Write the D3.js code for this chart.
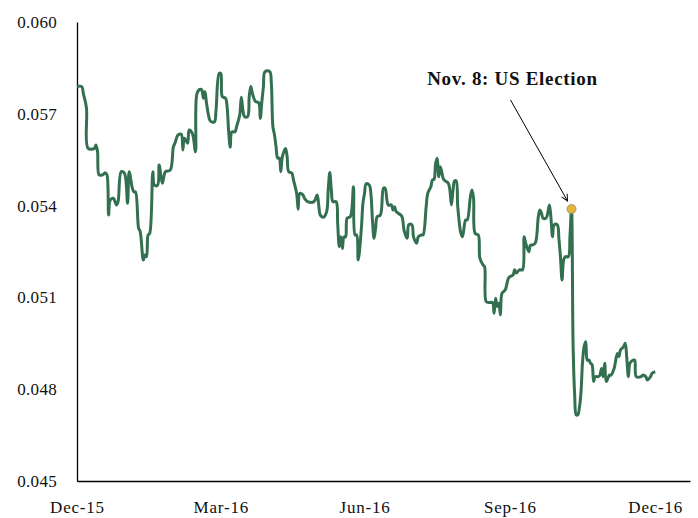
<!DOCTYPE html>
<html>
<head>
<meta charset="utf-8">
<script src="https://cdn.jsdelivr.net/npm/d3@7"></script>
<style>
  body { margin: 0; background: #fff; }
  svg { display: block; }
  .tick text { font-family: "Liberation Serif", "DejaVu Serif", serif; font-size: 17px; fill: #111; letter-spacing: 0.3px; }
  .x-axis .tick text { letter-spacing: 0.8px; }
  .series { fill: none; stroke: #33704f; stroke-width: 3; stroke-linejoin: round; }
  .note { font-family: "Liberation Serif", "DejaVu Serif", serif; font-size: 19px; font-weight: bold; fill: #111; letter-spacing: 0.7px; }
</style>
</head>
<body>
<script>
// days after 31 Dec 2015 and the value read for that day
var dayOffsets = [0,3,4,6,7,11,12,13,14,16,18,19,20,21,23,25,26,28,30,32,33,35,36,37,39,40,42,43,44,45,46,48,49,51,52,54,56,59,61,62,64,66,67,68,70,71,73,75,76,78,79,80,81,82,84,85,87,88,90,91,92,94,95,96,97,98,100,101,103,104,105,106,108,109,110,111,113,115,116,117,118,119,122,123,124,125,126,127,128,129,130,132,133,134,136,137,139,140,141,143,144,146,150,152,153,154,156,158,159,160,161,162,164,165,166,167,168,169,170,171,173,175,176,177,178,180,181,182,183,185,186,187,188,189,190,192,194,195,197,199,200,201,202,205,206,207,209,210,212,213,215,216,218,219,221,222,224,225,226,227,228,229,230,232,233,235,236,237,238,239,240,241,243,244,246,247,249,250,251,252,254,255,257,258,259,261,263,264,265,266,267,268,269,271,273,274,276,277,278,280,282,283,284,286,287,288,290,292,293,294,295,297,299,300,301,302,304,305,306,307,308,309,311,312,313,314,315,316,317,318,319,320,321,322,323,324,325,326,327,328,330,331,332,333,334,335,337,338,340,342,343,344,346,347,348,349,350,352,353,354,357,358,360,361,363,364,366];
var values = [0.05789,0.05789,0.05767,0.05719,0.05587,0.05587,0.05598,0.05576,0.0550,0.0550,0.05507,0.0550,0.05369,0.05418,0.05424,0.05402,0.05413,0.05511,0.05506,0.05408,0.05511,0.05458,0.05445,0.05445,0.05326,0.05315,0.05222,0.05239,0.05233,0.05304,0.05309,0.05511,0.05467,0.05467,0.05533,0.05473,0.05511,0.05516,0.05592,0.05604,0.05631,0.05633,0.05582,0.0562,0.05604,0.05647,0.05636,0.05576,0.05767,0.0578,0.05778,0.05751,0.05772,0.05734,0.0568,0.05674,0.05674,0.05712,0.05832,0.05832,0.05756,0.05751,0.05723,0.05641,0.05591,0.05641,0.05641,0.05658,0.05696,0.05754,0.05712,0.05691,0.05691,0.05756,0.05789,0.05767,0.0574,0.05736,0.05685,0.0574,0.05789,0.05838,0.05838,0.058,0.05658,0.05631,0.05592,0.05555,0.05555,0.05511,0.0556,0.05587,0.0556,0.05511,0.05506,0.05484,0.0544,0.05388,0.0544,0.05435,0.05424,0.05413,0.05413,0.05435,0.05402,0.05369,0.05362,0.0538,0.05451,0.05508,0.05451,0.05413,0.05413,0.05342,0.05266,0.05298,0.0526,0.05298,0.05298,0.05359,0.05364,0.05462,0.05304,0.05304,0.05222,0.05326,0.05408,0.0544,0.05471,0.05467,0.0544,0.05353,0.05293,0.05326,0.05364,0.05369,0.05457,0.05457,0.05402,0.05402,0.05386,0.05396,0.0538,0.05369,0.05359,0.0532,0.05293,0.05337,0.05337,0.05298,0.05277,0.05298,0.05304,0.05304,0.05396,0.0544,0.05462,0.05484,0.05486,0.05538,0.05555,0.05494,0.05527,0.05486,0.05481,0.05473,0.05451,0.05402,0.05451,0.05481,0.05481,0.05396,0.05309,0.05298,0.05353,0.05353,0.05429,0.05451,0.05424,0.05309,0.05304,0.05228,0.05206,0.052,0.05086,0.05083,0.05083,0.05048,0.05097,0.0507,0.05081,0.05043,0.05113,0.05124,0.05162,0.05168,0.05173,0.0519,0.0518,0.0519,0.0519,0.05298,0.05277,0.05249,0.05271,0.05271,0.05277,0.05364,0.05386,0.05375,0.05359,0.0536,0.05402,0.05359,0.05298,0.05337,0.05337,0.05293,0.05233,0.05157,0.05222,0.05233,0.05233,0.05298,0.05389,0.04944,0.04781,0.04716,0.04716,0.0474,0.0479,0.0489,0.0494,0.04955,0.04895,0.04895,0.04885,0.0488,0.04825,0.04841,0.04841,0.04846,0.04868,0.04841,0.04885,0.04825,0.04846,0.04846,0.04868,0.04917,0.04906,0.04928,0.04939,0.0495,0.04901,0.04841,0.04885,0.04895,0.04895,0.04841,0.04841,0.04846,0.04841,0.0483,0.04841,0.04852,0.04857];

var yTicks = [0.045, 0.048, 0.051, 0.054, 0.057, 0.060];
var xTickDates = ["2015-12-31", "2016-03-31", "2016-06-30", "2016-09-30", "2016-12-31"];
var electionDate = "2016-11-08";
var noteText = "Nov. 8: US Election";

var WIDTH = 698, HEIGHT = 518;
var LEFT = 77, TOP = 22, RIGHT = 690, BOTTOM = 481;

var parse = d3.utcParse("%Y-%m-%d");
var start = parse("2015-12-31");

var data = dayOffsets.map(function (d, i) {
  return { date: d3.utcDay.offset(start, d), value: values[i] };
});

var xScale = d3.scaleUtc()
  .domain([start, d3.utcDay.offset(start, 388)])
  .range([LEFT, RIGHT]);

var yScale = d3.scaleLinear()
  .domain([0.045, 0.060])
  .range([BOTTOM, TOP]);

var svg = d3.select("body").append("svg")
  .attr("width", WIDTH)
  .attr("height", HEIGHT);

var yAxis = d3.axisLeft(yScale)
  .tickValues(yTicks)
  .tickFormat(d3.format(".3f"))
  .tickSize(0)
  .tickPadding(20);

var xAxis = d3.axisBottom(xScale)
  .tickValues(xTickDates.map(parse))
  .tickFormat(d3.utcFormat("%b-%y"))
  .tickSize(0)
  .tickPadding(20);

svg.append("g")
  .attr("transform", "translate(" + LEFT + ",0)")
  .call(yAxis)
  .call(function (g) { g.select(".domain").attr("stroke", "#000").attr("stroke-width", 1.3); });

svg.append("g")
  .attr("class", "x-axis")
  .attr("transform", "translate(0," + BOTTOM + ")")
  .call(xAxis)
  .call(function (g) { g.select(".domain").attr("stroke", "#000").attr("stroke-width", 1.3); });

var line = d3.line()
  .curve(d3.curveCatmullRom.alpha(0.5))
  .x(function (d) { return xScale(d.date); })
  .y(function (d) { return yScale(d.value); });

svg.append("path")
  .datum(data)
  .attr("class", "series")
  .attr("d", line);

// election annotation
var ePoint = data.find(function (d) { return +d.date === +parse(electionDate); });
var ex = xScale(ePoint.date), ey = yScale(ePoint.value);

svg.append("defs").append("marker")
  .attr("id", "arrow")
  .attr("viewBox", "0 0 10 10")
  .attr("refX", 9).attr("refY", 5)
  .attr("markerWidth", 8).attr("markerHeight", 8)
  .attr("markerUnits", "userSpaceOnUse")
  .attr("orient", "auto")
  .append("path")
  .attr("d", "M1,1 L9,5 L1,9")
  .attr("fill", "none")
  .attr("stroke", "#000")
  .attr("stroke-width", 1.2);

svg.append("line")
  .attr("x1", ex - 61).attr("y1", ey - 109)
  .attr("x2", ex - 4).attr("y2", ey - 8)
  .attr("stroke", "#000")
  .attr("stroke-width", 1)
  .attr("marker-end", "url(#arrow)");

svg.append("circle")
  .attr("cx", ex).attr("cy", ey)
  .attr("r", 4.5)
  .attr("fill", "#e6b43c")
  .attr("stroke", "#8a8a6a")
  .attr("stroke-width", 0.8);

svg.append("text")
  .attr("class", "note")
  .attr("x", ex - 59)
  .attr("y", ey - 124)
  .attr("text-anchor", "middle")
  .text(noteText);
</script>
</body>
</html>
